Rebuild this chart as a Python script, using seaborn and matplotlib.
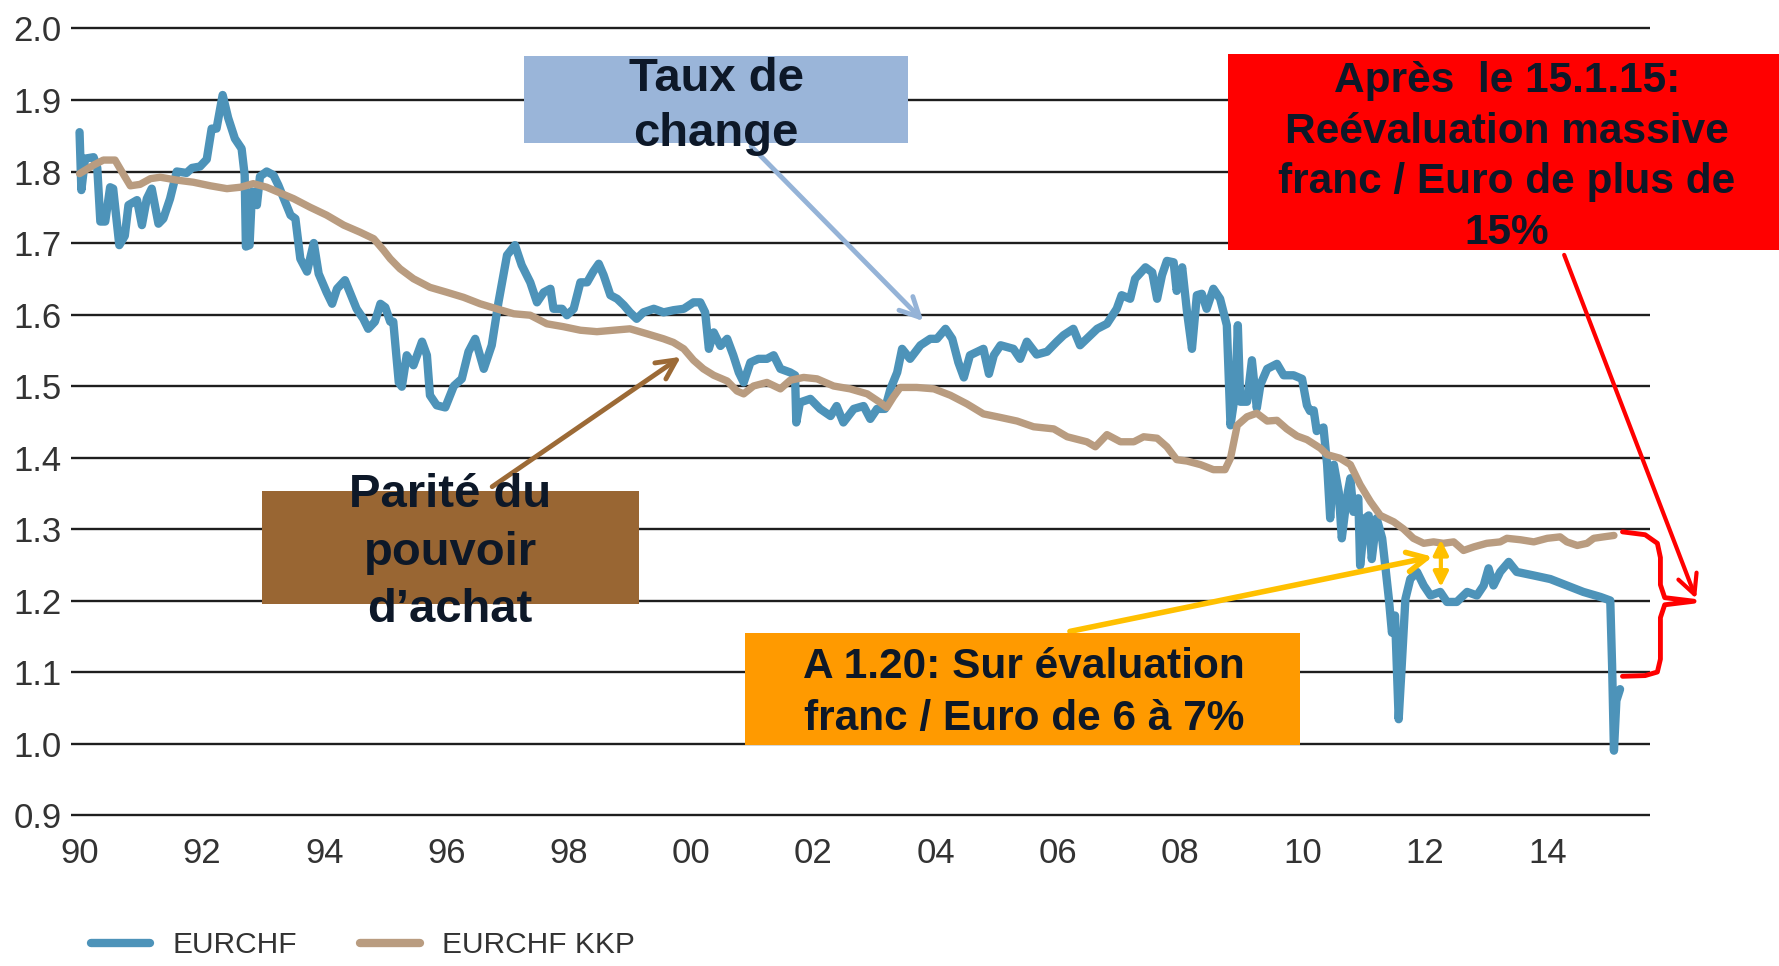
import matplotlib
matplotlib.use('Agg')
import matplotlib.pyplot as plt
from matplotlib.patches import Rectangle
import pandas as pd
import seaborn as sns

# EURCHF spot
eurchf_years = [1990.00, 1990.03, 1990.09, 1990.23, 1990.29, 1990.34, 1990.42, 1990.50, 1990.55, 1990.65,
                1990.74, 1990.80, 1990.94, 1991.02, 1991.10, 1991.18, 1991.29, 1991.37, 1991.48, 1991.59,
                1991.75, 1991.84, 1991.97, 1992.08, 1992.16, 1992.24, 1992.34, 1992.43, 1992.54, 1992.65,
                1992.70, 1992.72, 1992.78, 1992.82, 1992.90, 1992.95, 1993.06, 1993.17, 1993.25, 1993.34,
                1993.45, 1993.53, 1993.61, 1993.72, 1993.83, 1993.91, 1994.04, 1994.13, 1994.21, 1994.34,
                1994.42, 1994.53, 1994.64, 1994.72, 1994.83, 1994.92, 1995.00, 1995.08, 1995.13, 1995.22,
                1995.27, 1995.35, 1995.46, 1995.60, 1995.68, 1995.73, 1995.84, 1995.98, 1996.12, 1996.25,
                1996.36, 1996.47, 1996.61, 1996.74, 1996.85, 1996.99, 1997.12, 1997.23, 1997.37, 1997.48,
                1997.59, 1997.70, 1997.75, 1997.89, 1997.97, 1998.08, 1998.19, 1998.30, 1998.40, 1998.49,
                1998.57, 1998.68, 1998.79, 1998.90, 1999.00, 1999.11, 1999.22, 1999.39, 1999.55, 1999.71,
                1999.88, 2000.04, 2000.15, 2000.23, 2000.29, 2000.37, 2000.48, 2000.59, 2000.69, 2000.78,
                2000.86, 2000.97, 2001.10, 2001.24, 2001.35, 2001.46, 2001.62, 2001.70, 2001.72, 2001.78,
                2001.95, 2002.11, 2002.28, 2002.38, 2002.49, 2002.66, 2002.82, 2002.93, 2003.04, 2003.17,
                2003.26, 2003.37, 2003.45, 2003.58, 2003.75, 2003.91, 2004.02, 2004.16, 2004.27, 2004.37,
                2004.46, 2004.56, 2004.78, 2004.87, 2004.95, 2005.06, 2005.27, 2005.38, 2005.49, 2005.65,
                2005.82, 2005.98, 2006.09, 2006.25, 2006.36, 2006.47, 2006.64, 2006.80, 2006.96, 2007.04,
                2007.18, 2007.26, 2007.43, 2007.54, 2007.62, 2007.70, 2007.78, 2007.89, 2007.94, 2008.03,
                2008.11, 2008.19, 2008.27, 2008.35, 2008.43, 2008.54, 2008.65, 2008.76, 2008.82, 2008.90,
                2008.94, 2008.98, 2009.09, 2009.17, 2009.25, 2009.31, 2009.42, 2009.58, 2009.69, 2009.85,
                2009.99, 2010.07, 2010.12, 2010.18, 2010.23, 2010.29, 2010.34, 2010.40, 2010.45, 2010.51,
                2010.59, 2010.64, 2010.72, 2010.78, 2010.83, 2010.91, 2010.94, 2011.02, 2011.08, 2011.13,
                2011.21, 2011.30, 2011.35, 2011.41, 2011.46, 2011.51, 2011.57, 2011.62, 2011.68, 2011.76,
                2011.87, 2011.98, 2012.09, 2012.25, 2012.36, 2012.52, 2012.69, 2012.85, 2012.96, 2013.04,
                2013.12, 2013.23, 2013.37, 2013.50, 2013.78, 2014.05, 2014.32, 2014.59, 2014.87, 2015.03,
                2015.06, 2015.09, 2015.13, 2015.17, 2015.19]
eurchf_values = [1.855, 1.774, 1.818, 1.820, 1.805, 1.730, 1.730, 1.778, 1.776, 1.697,
                 1.710, 1.753, 1.760, 1.725, 1.762, 1.776, 1.727, 1.734, 1.762, 1.800,
                 1.798, 1.805, 1.807, 1.817, 1.860, 1.860, 1.907, 1.875, 1.846, 1.832,
                 1.795, 1.695, 1.697, 1.772, 1.753, 1.793, 1.800, 1.795, 1.781, 1.762,
                 1.739, 1.734, 1.678, 1.660, 1.700, 1.657, 1.631, 1.615, 1.636, 1.648,
                 1.631, 1.608, 1.594, 1.580, 1.590, 1.615, 1.610, 1.590, 1.590, 1.505,
                 1.499, 1.543, 1.529, 1.562, 1.543, 1.487, 1.473, 1.470, 1.500, 1.510,
                 1.548, 1.566, 1.524, 1.557, 1.617, 1.683, 1.697, 1.669, 1.645, 1.617,
                 1.631, 1.636, 1.608, 1.608, 1.599, 1.608, 1.645, 1.645, 1.660, 1.671,
                 1.655, 1.627, 1.622, 1.613, 1.603, 1.594, 1.603, 1.608, 1.603, 1.606,
                 1.608, 1.617, 1.617, 1.603, 1.552, 1.575, 1.556, 1.566, 1.543, 1.519,
                 1.505, 1.533, 1.538, 1.538, 1.543, 1.524, 1.519, 1.515, 1.449, 1.477,
                 1.482, 1.468, 1.458, 1.472, 1.449, 1.468, 1.472, 1.454, 1.468, 1.468,
                 1.496, 1.519, 1.552, 1.538, 1.557, 1.566, 1.566, 1.580, 1.566, 1.533,
                 1.512, 1.543, 1.552, 1.517, 1.543, 1.557, 1.552, 1.538, 1.562, 1.544,
                 1.548, 1.562, 1.571, 1.580, 1.557, 1.566, 1.580, 1.587, 1.608, 1.627,
                 1.622, 1.650, 1.666, 1.659, 1.622, 1.655, 1.675, 1.673, 1.633, 1.666,
                 1.603, 1.552, 1.627, 1.629, 1.608, 1.636, 1.622, 1.585, 1.445, 1.492,
                 1.585, 1.478, 1.478, 1.536, 1.469, 1.502, 1.524, 1.531, 1.515, 1.515,
                 1.510, 1.473, 1.465, 1.466, 1.437, 1.440, 1.442, 1.390, 1.315, 1.390,
                 1.352, 1.287, 1.343, 1.371, 1.324, 1.343, 1.249, 1.315, 1.319, 1.258,
                 1.315, 1.287, 1.249, 1.202, 1.155, 1.179, 1.034, 1.109, 1.202, 1.230,
                 1.240, 1.221, 1.207, 1.212, 1.198, 1.198, 1.212, 1.207, 1.221, 1.245,
                 1.221, 1.240, 1.254, 1.240, 1.235, 1.230, 1.221, 1.212, 1.205, 1.200,
                 1.109, 0.990, 1.060, 1.071, 1.076]

# EURCHF KKP (purchasing power parity)
kkp_years = [1990.00, 1990.23, 1990.39, 1990.58, 1990.69, 1990.83, 1990.99, 1991.16, 1991.32, 1991.59,
             1991.86, 1992.14, 1992.41, 1992.63, 1992.84, 1993.06, 1993.28, 1993.50, 1993.77, 1994.04,
             1994.32, 1994.59, 1994.81, 1994.97, 1995.08, 1995.24, 1995.46, 1995.73, 1996.01, 1996.28,
             1996.55, 1996.82, 1997.10, 1997.37, 1997.64, 1997.91, 1998.19, 1998.46, 1998.73, 1999.00,
             1999.28, 1999.55, 1999.71, 1999.88, 2000.04, 2000.20, 2000.37, 2000.59, 2000.75, 2000.86,
             2001.02, 2001.24, 2001.46, 2001.62, 2001.84, 2002.06, 2002.33, 2002.60, 2002.88, 2003.09,
             2003.20, 2003.31, 2003.42, 2003.69, 2003.97, 2004.24, 2004.51, 2004.78, 2005.06, 2005.33,
             2005.60, 2005.93, 2006.15, 2006.47, 2006.61, 2006.80, 2007.02, 2007.24, 2007.40, 2007.62,
             2007.78, 2007.94, 2008.11, 2008.33, 2008.54, 2008.73, 2008.82, 2008.93, 2009.09, 2009.25,
             2009.42, 2009.58, 2009.74, 2009.91, 2010.07, 2010.29, 2010.40, 2010.61, 2010.78, 2010.94,
             2011.11, 2011.27, 2011.49, 2011.65, 2011.81, 2011.98, 2012.14, 2012.30, 2012.47, 2012.63,
             2012.80, 2013.01, 2013.23, 2013.34, 2013.56, 2013.78, 2014.00, 2014.21, 2014.32, 2014.49,
             2014.65, 2014.76, 2014.92, 2015.09]
kkp_values = [1.797, 1.809, 1.816, 1.816, 1.800, 1.780, 1.782, 1.790, 1.792, 1.788,
              1.785, 1.780, 1.776, 1.778, 1.783, 1.778, 1.770, 1.762, 1.750, 1.739,
              1.725, 1.715, 1.706, 1.690, 1.678, 1.664, 1.650, 1.638, 1.631, 1.624,
              1.615, 1.608, 1.601, 1.599, 1.587, 1.583, 1.578, 1.576, 1.578, 1.580,
              1.573, 1.566, 1.561, 1.552, 1.536, 1.524, 1.515, 1.507, 1.493, 1.489,
              1.500, 1.505, 1.496, 1.508, 1.512, 1.510, 1.500, 1.496, 1.489, 1.477,
              1.470, 1.485, 1.498, 1.498, 1.496, 1.487, 1.475, 1.461, 1.456, 1.451,
              1.443, 1.440, 1.429, 1.422, 1.415, 1.432, 1.422, 1.422, 1.429, 1.427,
              1.415, 1.397, 1.395, 1.390, 1.383, 1.383, 1.399, 1.445, 1.457, 1.462,
              1.451, 1.452, 1.440, 1.430, 1.425, 1.413, 1.404, 1.399, 1.390, 1.362,
              1.338, 1.319, 1.310, 1.300, 1.287, 1.280, 1.282, 1.280, 1.282, 1.270,
              1.275, 1.280, 1.282, 1.287, 1.285, 1.282, 1.287, 1.289, 1.282, 1.277,
              1.280, 1.287, 1.289, 1.291]

series_names = ['EURCHF', 'EURCHF KKP']
ytick_values = [0.9, 1.0, 1.1, 1.2, 1.3, 1.4, 1.5, 1.6, 1.7, 1.8, 1.9, 2.0]
xtick_years = [1990, 1992, 1994, 1996, 1998, 2000, 2002, 2004, 2006, 2008, 2010, 2012, 2014]
xtick_labels = ['90', '92', '94', '96', '98', '00', '02', '04', '06', '08', '10', '12', '14']

df = pd.concat([
    pd.DataFrame({'year': eurchf_years, 'value': eurchf_values, 'series': series_names[0]}),
    pd.DataFrame({'year': kkp_years, 'value': kkp_values, 'series': series_names[1]}),
], ignore_index=True)

sns.set_theme(style='white')
plt.rcParams['font.family'] = ['Liberation Sans', 'DejaVu Sans']

fig = plt.figure(figsize=(17.79, 9.66), dpi=100)
ax = fig.add_axes([0.0399, 0.1489, 0.8876, 0.829])

sns.lineplot(data=df, x='year', y='value', hue='series', hue_order=series_names,
             palette=['#4d93b9', '#b99c80'], linewidth=6, estimator=None, sort=False, ax=ax)
ax.lines[1].set_linewidth(5.3)

ax.set_xlim(1989.86, 2015.68)
ax.set_ylim(0.89, 2.01)
ax.set_yticks(ytick_values)
ax.set_yticklabels(['%.1f' % v for v in ytick_values])
ax.set_xticks(xtick_years)
ax.set_xticklabels(xtick_labels)
ax.set_xlabel('')
ax.set_ylabel('')
ax.yaxis.grid(True, color='#1e1e1e', lw=1.7)
ax.xaxis.grid(False)
ax.set_axisbelow(True)
for s in ax.spines.values():
    s.set_visible(False)
ax.tick_params(axis='both', length=0, labelsize=25, colors='#333333')
ax.tick_params(axis='y', pad=7)
ax.tick_params(axis='x', pad=11)

h, l = ax.get_legend_handles_labels()
for hh in h:
    hh.set_linewidth(6)
ax.legend(h, l, loc='center left', bbox_to_anchor=(0.0510, 0.0217), bbox_transform=fig.transFigure,
          ncol=2, frameon=False, fontsize=21.5, handlelength=2.0, handletextpad=0.75,
          columnspacing=2.1, borderpad=0, borderaxespad=0, labelcolor='#333333')

txt_col = '#0d1828'

# annotation boxes (figure coordinates)
fig.add_artist(Rectangle((0.2945, 0.8520), 0.2159, 0.0901, transform=fig.transFigure,
                         facecolor='#9ab5d9', edgecolor='none', zorder=2))
fig.text(0.4025, 0.890, 'Taux de\nchange', ha='center', va='center', fontsize=34,
         fontweight='bold', color=txt_col, linespacing=1.33, zorder=4)

fig.add_artist(Rectangle((0.1473, 0.3747), 0.2119, 0.1170, transform=fig.transFigure,
                         facecolor='#996633', edgecolor='none', zorder=2))
fig.text(0.2530, 0.428, 'Parité du\npouvoir\nd\u2019achat', ha='center', va='center', fontsize=34,
         fontweight='bold', color=txt_col, linespacing=1.40, zorder=4)

fig.add_artist(Rectangle((0.6903, 0.7412), 0.3097, 0.2029, transform=fig.transFigure,
                         facecolor='#ff0000', edgecolor='none', zorder=2))
fig.text(0.8471, 0.8376, 'Après  le 15.1.15:\nReévaluation massive\nfranc / Euro de plus de\n15%',
         ha='center', va='center', fontsize=30.5, fontweight='bold', color=txt_col,
         linespacing=1.34, zorder=4)

fig.add_artist(Rectangle((0.4188, 0.2288), 0.3120, 0.1159, transform=fig.transFigure,
                         facecolor='#ff9a00', edgecolor='none', zorder=2))
fig.text(0.5756, 0.2826, 'A 1.20: Sur évaluation\nfranc / Euro de 6 à 7%', ha='center', va='center',
         fontsize=30.5, fontweight='bold', color=txt_col, linespacing=1.36, zorder=4)

# arrows (data coordinates)
ax.annotate('', xy=(2003.83, 1.588), xytext=(2000.95, 1.838),
            arrowprops=dict(arrowstyle='->', color='#95b3d7', lw=3.5, mutation_scale=35),
            annotation_clip=False)
ax.annotate('', xy=(1999.87, 1.543), xytext=(1996.71, 1.357),
            arrowprops=dict(arrowstyle='->', color='#9c6a36', lw=3.5, mutation_scale=35),
            annotation_clip=False)
ax.annotate('', xy=(2016.45, 1.199), xytext=(2014.26, 1.687),
            arrowprops=dict(arrowstyle='->', color='#ff0000', lw=3.0, mutation_scale=35),
            annotation_clip=False)
ax.annotate('', xy=(2012.17, 1.262), xytext=(2006.15, 1.156),
            arrowprops=dict(arrowstyle='->', color='#ffc000', lw=4.0, mutation_scale=35),
            annotation_clip=False)
ax.annotate('', xy=(2012.26, 1.215), xytext=(2012.26, 1.289),
            arrowprops=dict(arrowstyle='<|-|>', color='#ffc000', lw=3.0, mutation_scale=22),
            annotation_clip=False)

# red curly brace right of the series end
bx = [2015.23, 2015.60, 2015.80, 2015.85, 2015.85, 2015.92, 2016.40,
      2015.92, 2015.85, 2015.85, 2015.80, 2015.60, 2015.23]
by = [1.296, 1.292, 1.280, 1.260, 1.222, 1.204, 1.199,
      1.194, 1.176, 1.118, 1.100, 1.095, 1.094]
ax.plot(bx, by, color='#ff0000', lw=3.5, clip_on=False, solid_joinstyle='round')

fig.savefig('out.png', dpi=100)
